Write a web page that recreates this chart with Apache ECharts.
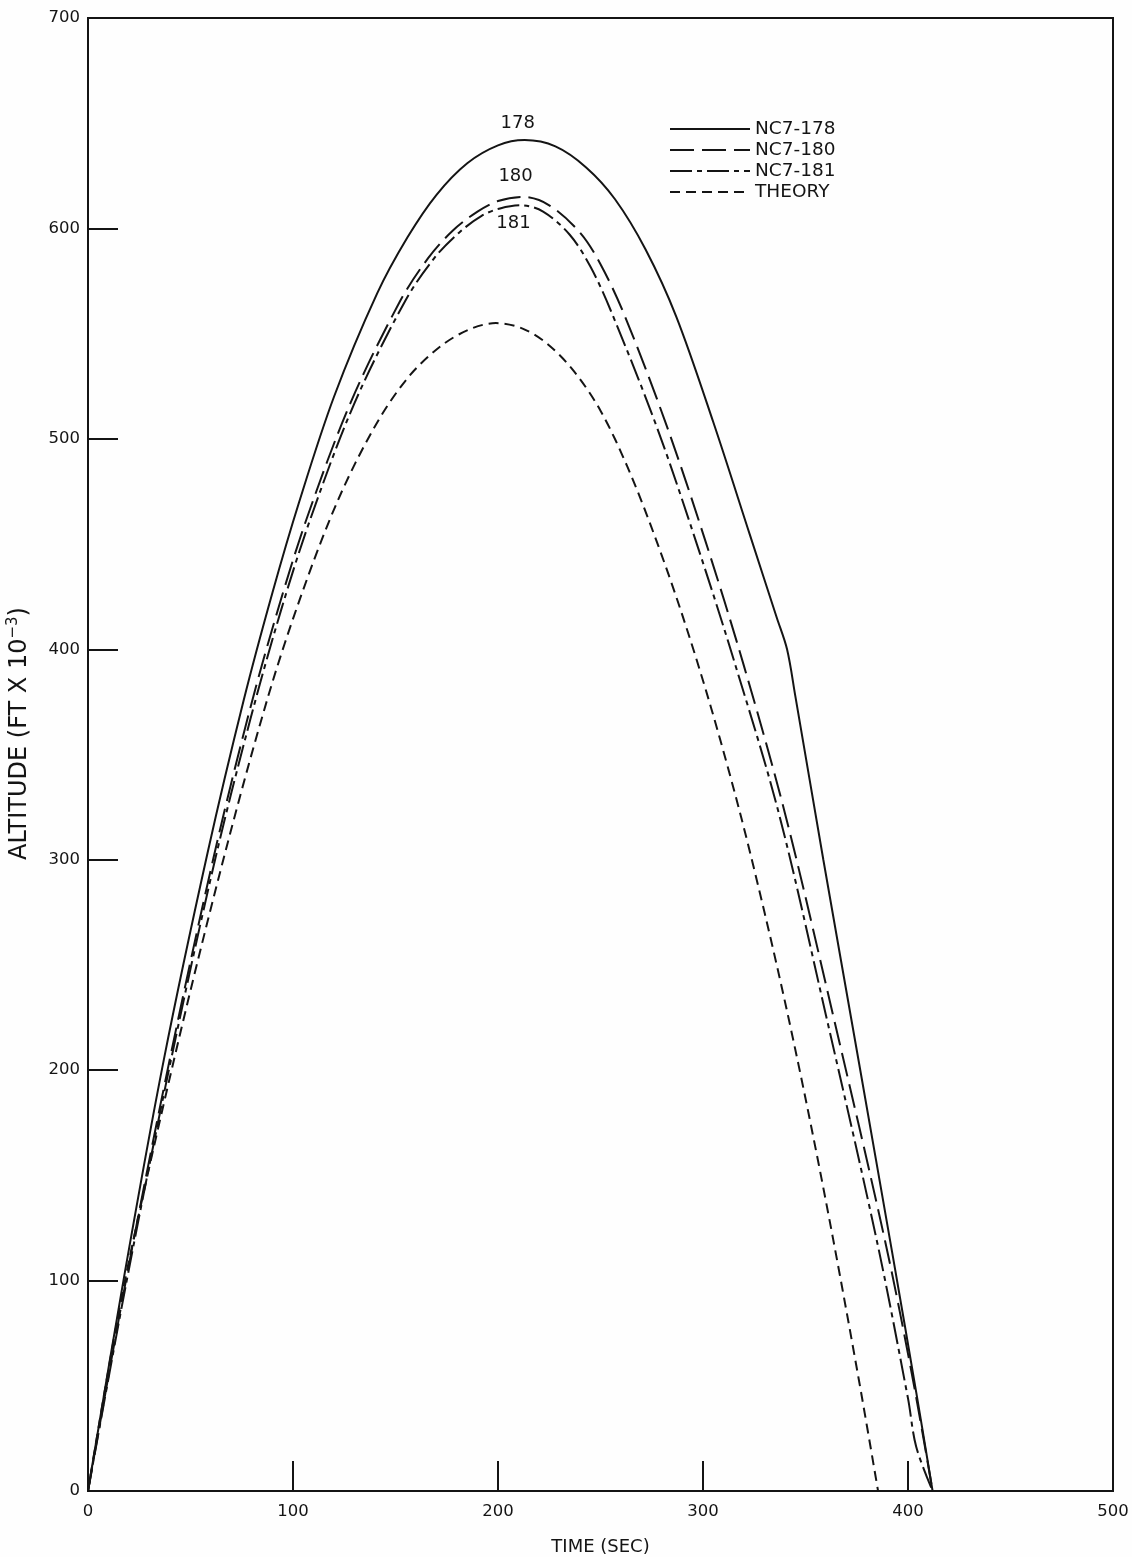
<!DOCTYPE html>
<html>
<head>
<meta charset="utf-8">
<title>Altitude vs Time</title>
<script src="https://cdn.jsdelivr.net/npm/echarts@6/dist/echarts.min.js"></script>
<style>
  html, body { margin: 0; padding: 0; background: #fefefe; }
  #chart { width: 1132px; height: 1557px; }
</style>
</head>
<body>
<div id="chart"></div>
<script>
// Flight NC7-178 (solid)
const time178 = [0, 18, 37, 58.5, 76, 90, 103, 120, 141, 156, 170, 185, 200, 213, 228, 243, 257, 272, 287, 305, 323, 336, 341, 345, 358.7, 376, 392.7, 404, 412];
const alt178  = [0, 104, 205, 304, 376, 427, 470, 520, 569, 596, 616, 631, 639.5, 642, 639, 629, 614, 590, 558, 508, 454, 415, 400, 378, 300, 204, 111, 47, 0];

// Flight NC7-180 (long dash)
const time180 = [0, 18.5, 38.8, 61, 78.6, 93, 107, 128, 152, 166, 178, 190, 200, 212, 225, 240, 250, 261.6, 282, 301, 320, 340, 363, 389, 402, 412];
const alt180  = [0, 100, 200, 300, 370, 420, 463, 517, 565, 586, 599, 608, 613, 615, 611, 598, 583, 559, 507, 452, 392, 322, 228, 118, 55, 0];

// Flight NC7-181 (dash-dot)
const time181 = [0, 18.5, 39, 61.5, 79, 94, 108.5, 130, 155, 169, 181, 192, 201, 211, 222, 235, 245, 255, 277.7, 297, 315, 337, 360, 385, 400, 404, 412];
const alt181  = [0, 98, 198, 298, 366, 418, 462, 517, 566, 586, 598, 606, 609.5, 611, 608, 597, 582, 561, 505, 450, 395, 322, 226, 118, 44, 21, 0];

// Theoretical trajectory (short dash)
const timeTheory = [0, 17, 41, 66, 88, 104.5, 122, 140, 156, 172, 186, 199, 212, 224, 237, 250, 263, 276, 290, 304, 318, 330, 341, 352, 363.5, 376, 385.4];
const altTheory  = [0, 95, 201, 300, 378, 427, 471, 506, 529, 544, 552, 555, 552.4, 545.2, 532.2, 513.4, 487, 455, 416, 372, 322.5, 275, 228, 177, 119.6, 53, 0];

const seriesNames = ['NC7-178', 'NC7-180', 'NC7-181', 'THEORY'];
const peakTags = ['178', '180', '181'];

const INK = '#141414';
const FONT = '"DejaVu Sans", "Noto Sans", sans-serif';

function pairs(ts, vs) { return ts.map((t, i) => [t, vs[i]]); }
function peakOf(ts, vs) {
  let k = 0;
  vs.forEach((v, i) => { if (v > vs[k]) k = i; });
  return [ts[k], vs[k]];
}

function curve(name, ts, vs, dash, tag, tagPos, tagDist) {
  const s = {
    name: name,
    type: 'line',
    data: pairs(ts, vs),
    symbol: 'none',
    smooth: 0.33,
    lineStyle: { color: INK, width: 2, type: dash },
    itemStyle: { color: INK },
    z: 3
  };
  if (tag) {
    s.markPoint = {
      symbol: 'circle',
      symbolSize: 0,
      data: [{ coord: peakOf(ts, vs) }],
      label: {
        show: true,
        formatter: tag,
        position: tagPos,
        distance: tagDist,
        offset: [-7, 0],
        color: INK,
        fontFamily: FONT,
        fontSize: 18
      }
    };
  }
  return s;
}

const chart = echarts.init(document.getElementById('chart'), null, { renderer: 'canvas' });

chart.setOption({
  animation: false,
  backgroundColor: '#fefefe',
  grid: {
    left: 88, right: 19, top: 18, bottom: 66,
    containLabel: false,
    outerBoundsMode: 'none',
    show: true, borderColor: INK, borderWidth: 2, backgroundColor: 'transparent'
  },
  legend: {
    orient: 'vertical',
    left: 664,
    top: 114,
    itemWidth: 80,
    itemHeight: 12,
    itemGap: 1,
    selectedMode: false,
    data: seriesNames,
    itemStyle: { opacity: 0 },
    textStyle: { color: INK, fontFamily: FONT, fontSize: 18.5, lineHeight: 20 }
  },
  xAxis: {
    type: 'value',
    min: 0, max: 500, interval: 100,
    axisLine: { show: false },
    splitLine: { show: false },
    axisTick: { show: true, inside: true, length: 30, lineStyle: { color: INK, width: 2 } },
    axisLabel: { margin: 12, color: INK, fontFamily: FONT, fontSize: 16.5 },
    name: 'TIME (SEC)',
    nameLocation: 'middle',
    nameGap: 47,
    nameTextStyle: { color: INK, fontFamily: FONT, fontSize: 18 }
  },
  yAxis: {
    type: 'value',
    min: 0, max: 700, interval: 100,
    axisLine: { show: false },
    splitLine: { show: false },
    axisTick: { show: true, inside: true, length: 30, lineStyle: { color: INK, width: 2 } },
    axisLabel: { margin: 8, color: INK, fontFamily: FONT, fontSize: 16.5, padding: [4, 0, 0, 0] },
    name: '{m|ALTITUDE (FT X 10}{s|−3}{m|)}',
    nameLocation: 'middle',
    nameGap: 54,
    nameTextStyle: {
      color: INK,
      padding: [0, 0, 0, 42],
      rich: {
        m: { color: INK, fontFamily: FONT, fontSize: 24, lineHeight: 28 },
        s: { color: INK, fontFamily: FONT, fontSize: 15, lineHeight: 28, verticalAlign: 'top', padding: [0, 0, 10, 0] }
      }
    }
  },
  series: [
    curve(seriesNames[0], time178, alt178, 'solid', peakTags[0], 'top', 8),
    curve(seriesNames[1], time180, alt180, [24, 8], peakTags[1], 'top', 12),
    curve(seriesNames[2], time181, alt181, [22, 5, 5, 5], peakTags[2], 'bottom', 9),
    curve(seriesNames[3], timeTheory, altTheory, [10, 6], null)
  ]
});
</script>
</body>
</html>
